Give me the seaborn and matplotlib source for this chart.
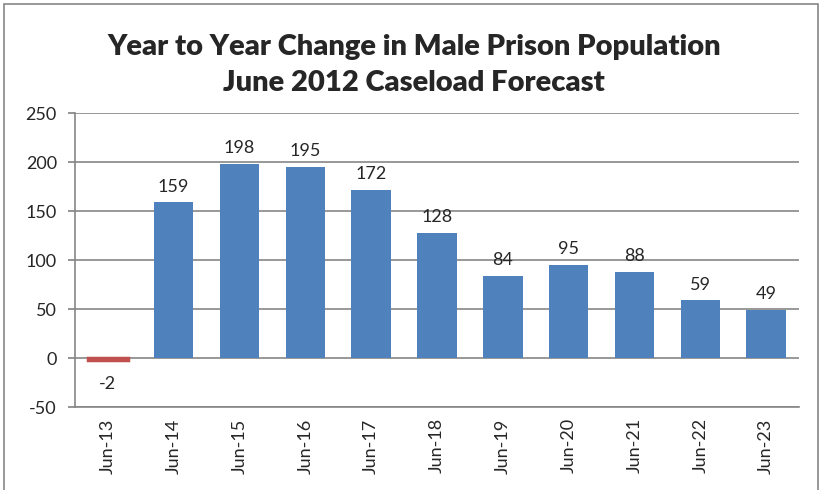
import matplotlib
matplotlib.use("Agg")
import matplotlib.pyplot as plt
import seaborn as sns
import pandas as pd
from matplotlib.patches import Rectangle
from matplotlib import font_manager

categories = ["Jun-13", "Jun-14", "Jun-15", "Jun-16", "Jun-17", "Jun-18",
              "Jun-19", "Jun-20", "Jun-21", "Jun-22", "Jun-23"]
values = [-2, 159, 198, 195, 172, 128, 84, 95, 88, 59, 49]
yticks = [-50, 0, 50, 100, 150, 200, 250]

sns.set_theme(style="white")
names = {f.name for f in font_manager.fontManager.ttflist}
base = "Lato" if "Lato" in names else "DejaVu Sans"
plt.rcParams["font.family"] = [base, "DejaVu Sans"]

df = pd.DataFrame({"cat": categories, "val": values})
colors = ["#C0504D" if v < 0 else "#4F81BD" for v in values]

fig = plt.figure(figsize=(8.23, 4.9), dpi=100)
ax = fig.add_axes([0.091, 0.169, 0.880, 0.600])
for t in [-50, 50, 100, 150, 200, 250]:
    ax.axhline(t, color="#868686", lw=1.2, zorder=0)
sns.barplot(data=df, x="cat", y="val", hue="cat", palette=colors, legend=False,
            width=0.6, ax=ax, saturation=1, linewidth=0, edgecolor="none")
ax.axhline(0, color="#868686", lw=1.2, zorder=0.5)
for p, v, c in zip(ax.patches, values, colors):
    p.set_zorder(2)
    if v < 0:
        # thicker outline in the bar colour so the small negative bar shows
        p.set_edgecolor(c)
        p.set_linewidth(2.5)

ax.set_ylim(-50, 250)
ax.set_yticks(yticks)
ax.set_yticklabels([str(t) for t in yticks], fontsize=13)
ax.set_xlabel("")
ax.set_ylabel("")
ax.set_xlim(-0.5, len(categories) - 0.5)
ax.tick_params(axis="x", rotation=90, labelsize=13, length=0, pad=8)
ax.tick_params(axis="y", length=5, color="#868686", direction="out", left=True, pad=8)
for s in ["top", "right"]:
    ax.spines[s].set_visible(False)
ax.spines["left"].set_color("#868686")
ax.spines["bottom"].set_color("#868686")
ax.spines["left"].set_linewidth(1.2)
ax.spines["bottom"].set_linewidth(1.2)

for i, v in enumerate(values):
    if v >= 0:
        ax.text(i, v + 8, str(v), ha="center", va="bottom", fontsize=13)
    else:
        ax.text(i, v - 16, str(v), ha="center", va="top", fontsize=13)

fig.text(0.503, 0.905, "Year to Year Change in Male Prison Population",
         ha="center", va="center", fontsize=21, fontweight="heavy")
fig.text(0.503, 0.830, "June 2012 Caseload Forecast",
         ha="center", va="center", fontsize=21, fontweight="heavy")

fig.patches.append(Rectangle((4 / 823, -0.05), 1 - 9 / 823, 1 - 4 / 490 + 0.05,
                             transform=fig.transFigure, fill=False,
                             edgecolor="#868686", lw=1.2))

fig.savefig("out.png", dpi=100)
